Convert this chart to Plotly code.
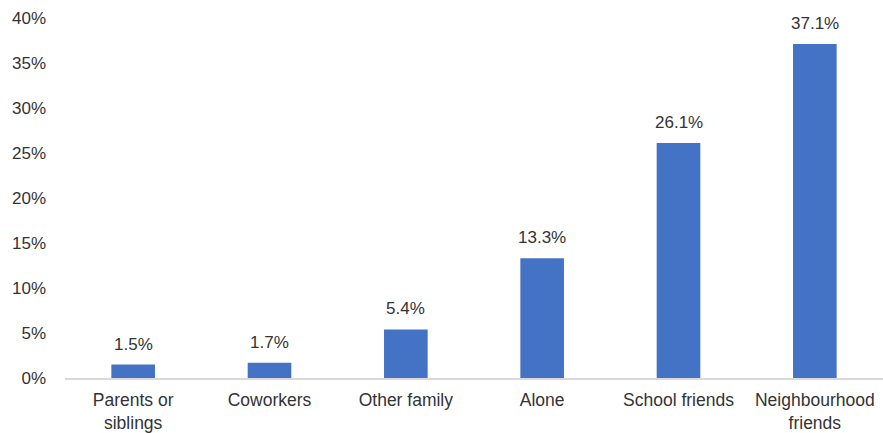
import plotly.graph_objects as go

categories = ["Parents or<br>siblings", "Coworkers", "Other family", "Alone",
              "School friends", "Neighbourhood<br>friends"]
shares = [1.5, 1.7, 5.4, 13.3, 26.1, 37.1]
tick_values = [0, 5, 10, 15, 20, 25, 30, 35, 40]
tick_labels = [f"{v}%" for v in tick_values]

bar_color = "#4472C4"
text_color = "#333333"
font_family = "Liberation Sans, Arial, sans-serif"

fig = go.Figure(
    go.Bar(
        x=categories,
        y=shares,
        marker=dict(color=bar_color, line=dict(width=0)),
        hoverinfo="skip",
    )
)

# value labels above each bar
for cat, val in zip(categories, shares):
    fig.add_annotation(
        x=cat, y=val, text=f"{val:.1f}%", showarrow=False,
        yanchor="bottom", yshift=9,
        font=dict(family=font_family, size=17, color=text_color),
    )

fig.update_layout(
    width=883, height=433,
    margin=dict(l=65, r=0, t=18, b=55),
    paper_bgcolor="white", plot_bgcolor="white",
    bargap=0.68,
    showlegend=False,
    font=dict(family=font_family, size=17, color=text_color),
    xaxis=dict(
        showgrid=False, zeroline=False,
        showline=True, linecolor="#d9d9d9", linewidth=2,
        ticks="", tickfont=dict(size=17.5, color=text_color),
        ticklabelstandoff=5,
    ),
    yaxis=dict(
        range=[0, 40], showgrid=False, zeroline=False, showline=False,
        tickmode="array", tickvals=tick_values, ticktext=tick_labels,
        ticks="", tickfont=dict(size=17, color=text_color),
        ticklabelstandoff=18,
    ),
)

fig.write_html("out.html")
